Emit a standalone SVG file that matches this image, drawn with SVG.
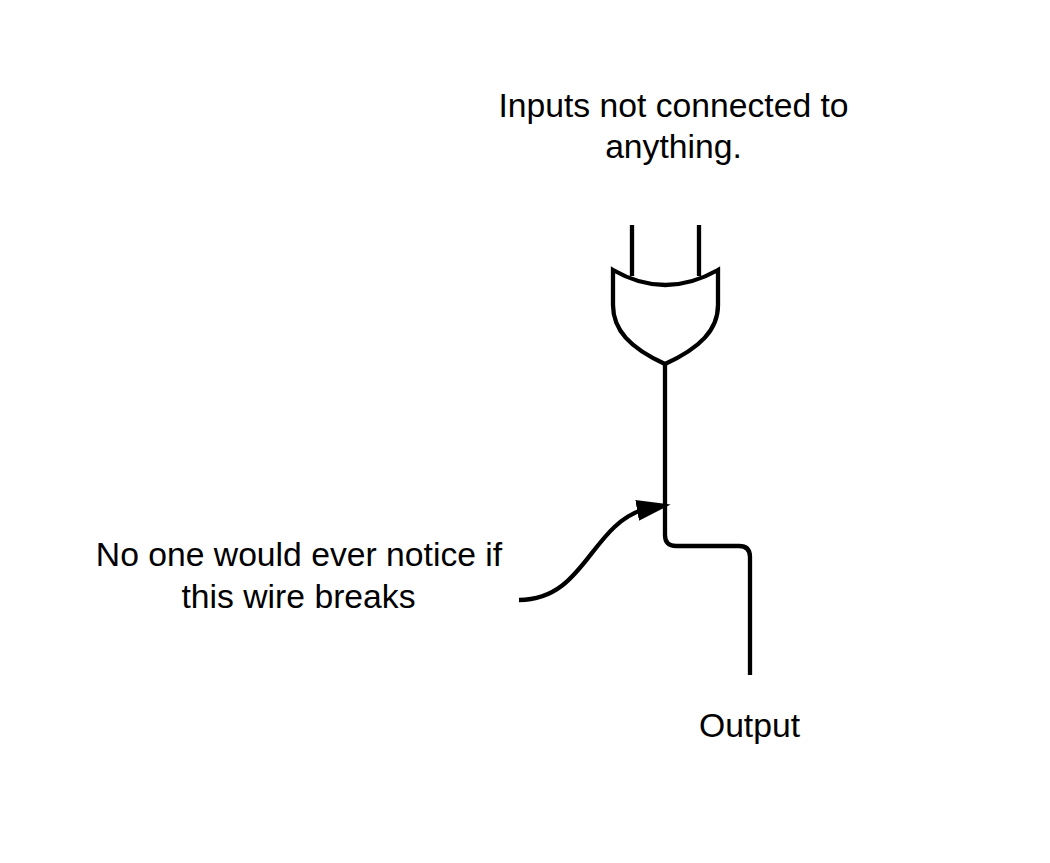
<svg xmlns="http://www.w3.org/2000/svg" width="1050" height="863" viewBox="0 0 1050 863">
<style>
text{font-family:"Liberation Sans",Arial,sans-serif;font-size:33.7px;fill:#000;text-anchor:middle}
.l{fill:none;stroke:#000;stroke-width:4.3}
</style>
<defs><marker id="a" markerUnits="userSpaceOnUse" markerWidth="44" markerHeight="44" refX="8" refY="22" orient="-10"><path d="M0 11.5L34 22L0 32.5Z" fill="#000"/></marker></defs>
<rect width="1050" height="863" fill="#fff"/>
<g id="connectors">
<path class="l" d="M632 225V276M699 225V276"/>
<path class="l" d="M665 364V535Q665 546 676 546H739Q750 546 750 557V675"/>
<path class="l" d="M519 600C585 600 590 525 645 509" marker-end="url(#a)"/>
</g>
<g id="gate"><path class="l" d="M613 270Q665 300 718 270V305C718 330 700 348 665 364C630 348 613 330 613 305Z" fill="#fff"/></g>
<g id="label-inputs"><text x="673.5" y="116.5">Inputs not connected to</text><text x="673.5" y="157.5">anything.</text></g>
<g id="label-wire"><text x="299" y="565.5">No one would ever notice if</text><text x="298.5" y="607.5">this wire breaks</text></g>
<g id="label-output"><text x="749.5" y="736.5">Output</text></g>
</svg>
